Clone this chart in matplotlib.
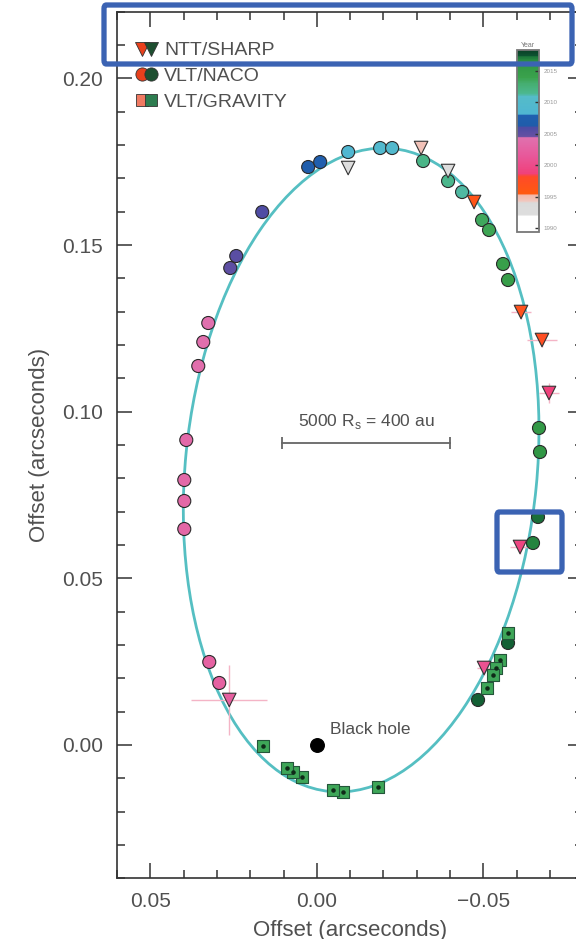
import matplotlib

matplotlib.use("Agg")
import matplotlib.pyplot as plt
from matplotlib.cm import ScalarMappable
from matplotlib.colors import LinearSegmentedColormap, Normalize
from matplotlib.legend_handler import HandlerTuple
from matplotlib.lines import Line2D
from matplotlib.patches import Ellipse, FancyBboxPatch
from matplotlib.ticker import MultipleLocator

plt.rcParams["font.family"] = ["Liberation Sans", "DejaVu Sans"]

sharp_x = [-0.0094, -0.0313, -0.0394, -0.0472, -0.0613, -0.0676, -0.0697, -0.0610, -0.0502, 0.0263]
sharp_y = [0.1731, 0.1791, 0.1722, 0.1629, 0.1299, 0.1215, 0.1056, 0.0594, 0.0231, 0.0135]
sharp_xerr = [0, 0, 0, 0, 0.0030, 0.0045, 0.0030, 0.0030, 0.0020, 0.0114]
sharp_yerr = [0, 0, 0, 0, 0.0020, 0.0020, 0.0030, 0.0020, 0.0020, 0.0104]
sharp_year = [1992.4, 1994.6, 1992.6, 1996.3, 1996.8, 1997.6, 1998.7, 1999.3, 2000.8, 2002.3]

# --- VLT/NACO (circles) ---
naco_x = [0.0293, 0.0323, 0.0398, 0.0398, 0.0398, 0.0392, 0.0356, 0.0341, 0.0326,
          0.0260, 0.0242, 0.0164, 0.0026, -0.0010, -0.0094, -0.0190, -0.0226,
          -0.0319, -0.0394, -0.0436, -0.0496, -0.0517, -0.0559, -0.0574,
          -0.0667, -0.0670, -0.0664, -0.0649, -0.0574, -0.0484]
naco_y = [0.0186, 0.0249, 0.0648, 0.0732, 0.0795, 0.0915, 0.1137, 0.1209, 0.1266,
          0.1431, 0.1467, 0.1599, 0.1734, 0.1749, 0.1779, 0.1791, 0.1791,
          0.1752, 0.1692, 0.1659, 0.1575, 0.1545, 0.1443, 0.1395,
          0.0951, 0.0879, 0.0684, 0.0606, 0.0306, 0.0135]
naco_year = [2002.6, 2002.7, 2003.2, 2003.3, 2003.4, 2003.5, 2004.0, 2004.1, 2004.2,
             2005.0, 2005.3, 2005.8, 2006.6, 2007.3, 2008.5, 2009.4, 2009.7,
             2011.8, 2011.6, 2011.3, 2013.5, 2013.7, 2014.5, 2014.8,
             2015.5, 2016.0, 2017.2, 2016.9, 2017.3, 2017.35]

# --- VLT/GRAVITY (squares) ---
grav_x = [-0.0574, -0.0550, -0.0538, -0.0529, -0.0511, -0.0184, -0.0079, -0.0049,
          0.0044, 0.0071, 0.0089, 0.0161]
grav_y = [0.0336, 0.0255, 0.0231, 0.0210, 0.0171, -0.0126, -0.0141, -0.0135,
          -0.0096, -0.0081, -0.0069, -0.0003]
grav_year = [2013.6] * 12

# projected orbit: centre, full major / minor axis, position angle (deg)
orbit_centre = (-0.0133, 0.0825)
orbit_axes = (0.1938, 0.1056)
orbit_angle = 95.6

# scale bar (400 au)
scale_x = [0.0104, -0.0400]
scale_y = 0.0906

# colour scale stops (year, colour)
stop_years = [1989.4, 1991.9, 1992.1, 1994.0, 1994.2, 1995.2, 1995.4, 1998.2, 1998.6,
              2001.5, 2004.3, 2004.6, 2006.0, 2006.3, 2007.9, 2008.2, 2011.0, 2011.4,
              2013.0, 2014.0, 2016.5, 2017.2, 2017.5, 2018.3]
stop_colors = ["#ffffff", "#ffffff", "#dedede", "#dadada", "#f0c8c0", "#f3b8aa", "#ff5a10",
               "#ff4a28", "#f0407a", "#e8589a", "#e070ae", "#6650a2", "#4c4ca4", "#1f5caa",
               "#2060b0", "#4fb6d2", "#55bcc8", "#4cb890", "#45ae70", "#3aa24c", "#2f9444",
               "#1e7a3c", "#0d5230", "#0a4028"]
year_ticks = [1990, 1995, 2000, 2005, 2010, 2015]

ymin, ymax = stop_years[0], stop_years[-1]
cmap = LinearSegmentedColormap.from_list(
    "year", [((y - ymin) / (ymax - ymin), c) for y, c in zip(stop_years, stop_colors)]
)
norm = Normalize(ymin, ymax)

TXT = "#505050"
W, H = 576, 939
fig = plt.figure(figsize=(W / 100, H / 100), dpi=100)
ax = fig.add_axes([117 / W, 1 - 878.3 / H, (583.3 - 117) / W, (878.3 - 11.7) / H])

ax.add_patch(Ellipse(orbit_centre, orbit_axes[0], orbit_axes[1], angle=orbit_angle,
                     fill=False, edgecolor="#55bfc2", lw=2.0, zorder=1))

ax.errorbar(sharp_x, sharp_y, xerr=sharp_xerr, yerr=sharp_yerr, fmt="none",
            ecolor="#f4b4c6", elinewidth=1.0, zorder=2)
ax.scatter(sharp_x, sharp_y, c=sharp_year, cmap=cmap, norm=norm, marker="v", s=95,
           edgecolors="#333333", linewidths=0.8, zorder=4)
ax.scatter(naco_x, naco_y, c=naco_year, cmap=cmap, norm=norm, marker="o", s=88,
           edgecolors="#2a2a2a", linewidths=0.8, zorder=3)
ax.scatter(grav_x, grav_y, c=grav_year, cmap=cmap, norm=norm, marker="s", s=72,
           edgecolors="#24553a", linewidths=0.8, zorder=3)
ax.scatter(grav_x, grav_y, c="#0f2a18", marker="o", s=5, zorder=5)

# black hole
ax.scatter([0.0], [0.0], c="black", s=95, zorder=5)
ax.text(-0.0040, 0.0045, "Black hole", fontsize=12.5, color=TXT, ha="left", va="center")

# scale bar
ax.plot(scale_x, [scale_y, scale_y], color="#666666", lw=1.3, marker="|", ms=9, mew=1.3)
ax.text(sum(scale_x) / 2, scale_y + 0.0036, r"5000 R$_\mathregular{s}$ = 400 au",
        fontsize=12.5, color=TXT, ha="center", va="bottom")

ax.set_xlim(0.06, -0.08)
ax.set_ylim(-0.04, 0.22)
ax.xaxis.set_major_locator(MultipleLocator(0.05))
ax.xaxis.set_minor_locator(MultipleLocator(0.01))
ax.yaxis.set_major_locator(MultipleLocator(0.05))
ax.yaxis.set_minor_locator(MultipleLocator(0.01))
ax.xaxis.set_major_formatter(lambda v, p: f"{v:.2f}".replace("-", "\u2212"))
ax.yaxis.set_major_formatter(lambda v, p: f"{v:.2f}".replace("-", "\u2212"))
ax.tick_params(which="both", direction="in", top=True, right=True, colors="#333333",
               labelcolor=TXT, labelsize=15, width=1.1, pad=10)
ax.tick_params(which="major", length=11)
ax.tick_params(which="minor", length=5.5)
for sp in ax.spines.values():
    sp.set_color("#333333")
    sp.set_linewidth(1.2)
ax.set_xlabel("Offset (arcseconds)", fontsize=16, color=TXT, labelpad=6)
ax.set_ylabel("Offset (arcseconds)", fontsize=16, color=TXT, labelpad=9)

# legend with two-tone markers
def pair(marker, c1, c2, ms):
    return (Line2D([], [], ls="none", marker=marker, ms=ms, mfc=c1, mec="#333333", mew=0.6),
            Line2D([], [], ls="none", marker=marker, ms=ms, mfc=c2, mec="#333333", mew=0.6))

handles = [pair("v", "#e8401c", "#1d4f30", 9.5),
           pair("o", "#e8401c", "#1d4f30", 9.5),
           pair("s", "#f07a62", "#2e7d50", 8.5)]
ax.legend(handles, ["NTT/SHARP", "VLT/NACO", "VLT/GRAVITY"],
          handler_map={tuple: HandlerTuple(ndivide=None, pad=0)},
          loc="upper left", bbox_to_anchor=(128 / W, 1 - 32 / H),
          bbox_transform=fig.transFigure, frameon=False, fontsize=14,
          handlelength=0.9, handletextpad=0.45, labelspacing=0.42, borderpad=0,
          labelcolor=TXT)

# colour bar
cax = fig.add_axes([517 / W, 1 - 232 / H, 22 / W, 182 / H])
cb = fig.colorbar(ScalarMappable(norm=norm, cmap=cmap), cax=cax, ticks=year_ticks)
cb.outline.set_edgecolor("#777777")
cb.outline.set_linewidth(1.3)
cax.tick_params(direction="in", length=3, width=1, colors="#333333",
                labelcolor="#999999", labelsize=4.5, pad=3)
cax.set_title("Year", fontsize=5, color="#777777", pad=2)

# highlight boxes
box_color = "#3b63b3"
for x0, y0, x1, y1 in [(104, 5, 572, 64), (497, 512, 562, 572)]:
    fig.add_artist(FancyBboxPatch((x0 / W, 1 - y1 / H), (x1 - x0) / W, (y1 - y0) / H,
                                  boxstyle="round,pad=0,rounding_size=0.004",
                                  transform=fig.transFigure, fill=False,
                                  edgecolor=box_color, lw=3.8, zorder=10))

fig.savefig("out.png", dpi=100)
